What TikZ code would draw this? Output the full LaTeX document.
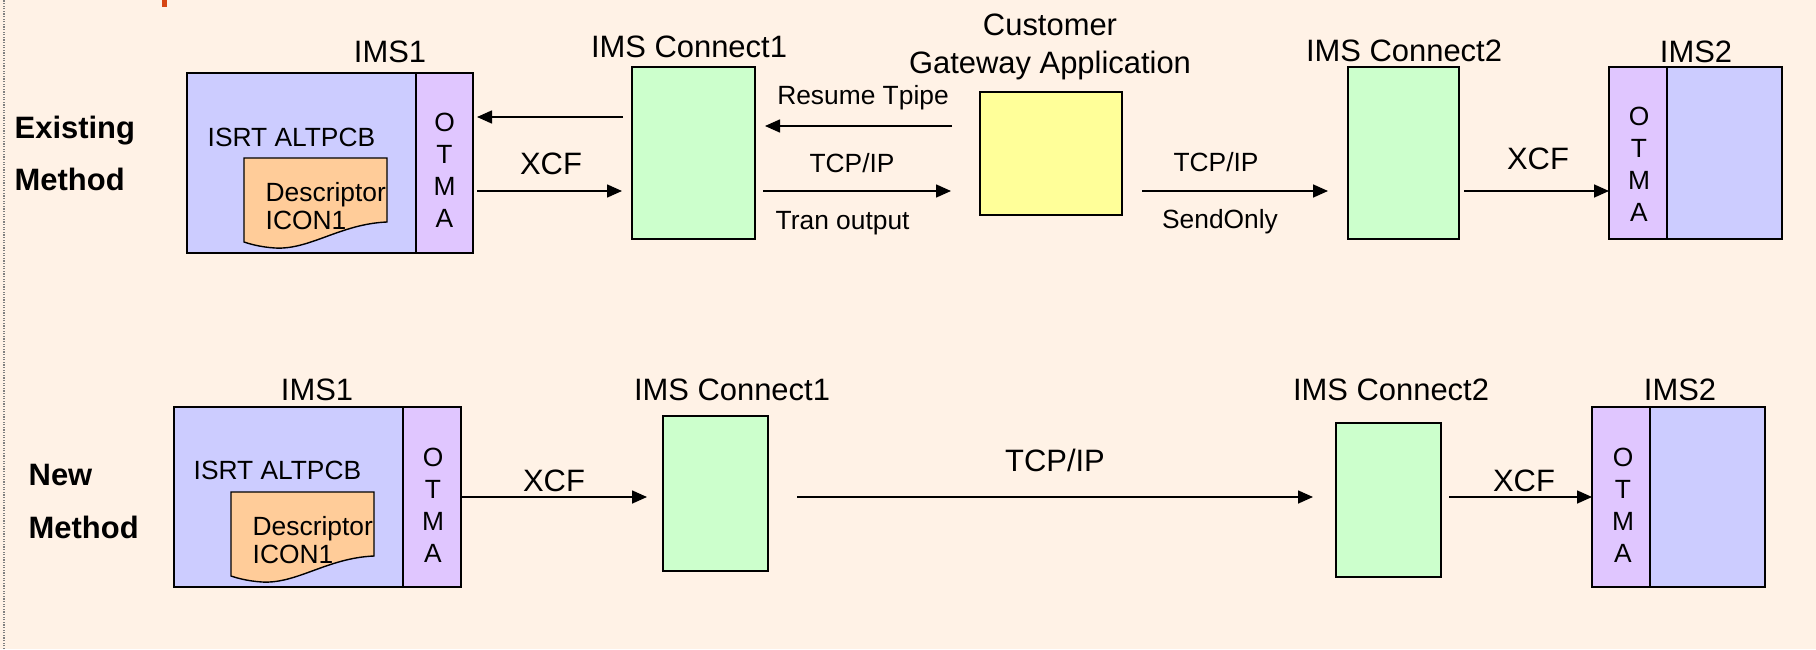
\documentclass[tikz,border=0pt]{standalone}
\usepackage{fontspec}
\setmainfont{Liberation Sans}
\usetikzlibrary{arrows.meta,positioning}
\definecolor{paper}{RGB}{255,242,230}
\definecolor{imsblue}{RGB}{204,204,255}
\definecolor{otmalilac}{RGB}{224,198,255}
\definecolor{descorange}{RGB}{255,204,153}
\definecolor{congreen}{RGB}{204,255,204}
\definecolor{gwyellow}{RGB}{255,255,153}
\definecolor{markred}{RGB}{214,70,20}
\newcommand{\txtbig}{\fontsize{8.8}{10.8}\selectfont}
\newcommand{\txtsmall}{\fontsize{7.5}{8}\selectfont}

\begin{document}
\begin{tikzpicture}[
 box/.style={draw,line width=0.6pt,inner sep=0pt,outer sep=0pt,anchor=south west},
 lbl/.style={inner sep=0pt,font=\txtbig},
 sml/.style={inner sep=0pt,font=\txtsmall},
 otmatxt/.style={inner sep=0pt,align=center,font=\fontsize{7.5}{9.1}\selectfont},
 mth/.style={inner sep=0pt,anchor=west,align=left,font=\bfseries\fontsize{8.8}{15}\selectfont},
 doc/.style={draw,fill=descorange,line width=0.4pt},
 arr/.style={line width=0.45pt,-{Triangle[length=0.15cm,width=0.13cm]}}
 ]
 \useasboundingbox (0,0) rectangle (18.16,6.49);
 \fill[paper] (0,0) rectangle (18.16,6.49);
 \draw[gray,line width=0.02cm,dash pattern=on 0.012cm off 0.014cm] (0.04,0) -- (0.04,6.49);
 \fill[markred] (1.62,6.42) rectangle (1.67,6.49);

 \node[mth] (m_old) at (0.14,4.955) {Existing\\Method};
 \node[box,fill=imsblue,minimum width=2.29cm,minimum height=1.80cm] (ims_1) at (1.87,3.96) {};
 \node[box,fill=otmalilac,minimum width=0.57cm,minimum height=1.80cm] (otma_1) [right=0pt of ims_1] {};
 \node[lbl] (l_ims1) at (3.90,5.97) {IMS1};
 \node[sml,anchor=west] (isrt_1) at (2.07,5.12) {ISRT ALTPCB};
 \draw[doc] (2.44,4.91) -- (3.87,4.91) -- (3.87,4.27) .. controls (3.40,4.25) and (3.10,3.99) .. (2.75,4.01) .. controls (2.60,4.02) and (2.50,4.05) .. (2.44,4.07) -- cycle;
 \node[sml,anchor=west,align=left] (desc_1) at (2.65,4.43) {Descriptor\\ICON1};
 \node[otmatxt] (o_1) at (4.445,4.785) {O\\T\\M\\A};
 \node[box,fill=congreen,minimum width=1.23cm,minimum height=1.72cm] (con_1) at (6.32,4.10) {};
 \node[lbl] (l_con1) at (6.89,6.02) {IMS Connect1};
 \node[box,fill=gwyellow,minimum width=1.42cm,minimum height=1.23cm] (gw) at (9.80,4.34) {};
 \node[lbl,align=center] (l_gw) at (10.50,6.02) {Customer\\Gateway Application};
 \node[box,fill=congreen,minimum width=1.11cm,minimum height=1.72cm] (con_2) at (13.48,4.10) {};
 \node[lbl] (l_con2) at (14.04,5.98) {IMS Connect2};
 \node[box,fill=otmalilac,minimum width=0.58cm,minimum height=1.72cm] (otma_2) at (16.09,4.10) {};
 \node[box,fill=imsblue,minimum width=1.15cm,minimum height=1.72cm] (ims_2) [right=0pt of otma_2] {};
 \node[lbl] (l_ims2) at (16.96,5.97) {IMS2};
 \node[otmatxt] (o_2) at (16.39,4.845) {O\\T\\M\\A};

 \coordinate (up_a) at (0,5.32);
 \coordinate (up_b) at (0,5.23);
 \coordinate (low_a) at (0,4.58);
 \draw[arr,shorten <=0.09cm,shorten >=0.04cm] (con_1.west |- up_a) -- (otma_1.east |- up_a);
 \draw[arr,shorten <=0.04cm,shorten >=0.10cm] (otma_1.east |- low_a) -- (con_1.west |- low_a);
 \draw[arr,shorten <=0.28cm,shorten >=0.10cm] (gw.west |- up_b) -- (con_1.east |- up_b);
 \draw[arr,shorten <=0.08cm,shorten >=0.29cm] (con_1.east |- low_a) -- (gw.west |- low_a);
 \draw[arr,shorten <=0.20cm,shorten >=0.20cm] (gw.east |- low_a) -- (con_2.west |- low_a);
 \draw[arr,shorten <=0.05cm] (con_2.east |- low_a) -- (otma_2.west |- low_a);
 \node[lbl] (x_1) at (5.51,4.85) {XCF};
 \node[sml] (rt) at (8.63,5.51) {Resume Tpipe};
 \node[sml] (tcp_1) at (8.52,4.86) {TCP/IP};
 \node[sml,anchor=west] (tran) at (7.75,4.26) {Tran output};
 \node[sml] (tcp_2) at (12.16,4.87) {TCP/IP};
 \node[sml] (so) at (12.20,4.27) {SendOnly};
 \node[lbl] (x_2) at (15.38,4.90) {XCF};

 \node[mth] (m_new) at (0.28,1.475) {New\\Method};
 \node[box,fill=imsblue,minimum width=2.29cm,minimum height=1.80cm] (ims_3) at (1.74,0.62) {};
 \node[box,fill=otmalilac,minimum width=0.58cm,minimum height=1.80cm] (otma_3) [right=0pt of ims_3] {};
 \node[lbl] (l_ims3) at (3.17,2.59) {IMS1};
 \node[sml,anchor=west] (isrt_3) at (1.93,1.79) {ISRT ALTPCB};
 \draw[doc,shift={(-0.13,-3.34)}] (2.44,4.91) -- (3.87,4.91) -- (3.87,4.27) .. controls (3.40,4.25) and (3.10,3.99) .. (2.75,4.01) .. controls (2.60,4.02) and (2.50,4.05) .. (2.44,4.07) -- cycle;
 \node[sml,anchor=west,align=left] (desc_3) at (2.52,1.09) {Descriptor\\ICON1};
 \node[otmatxt] (o_3) at (4.33,1.44) {O\\T\\M\\A};
 \node[box,fill=congreen,minimum width=1.05cm,minimum height=1.55cm] (con_3) at (6.63,0.78) {};
 \node[lbl] (l_con3) at (7.32,2.59) {IMS Connect1};
 \node[box,fill=congreen,minimum width=1.05cm,minimum height=1.54cm] (con_4) at (13.36,0.72) {};
 \node[lbl] (l_con4) at (13.91,2.59) {IMS Connect2};
 \node[box,fill=otmalilac,minimum width=0.58cm,minimum height=1.80cm] (otma_4) at (15.92,0.62) {};
 \node[box,fill=imsblue,minimum width=1.15cm,minimum height=1.80cm] (ims_4) [right=0pt of otma_4] {};
 \node[lbl] (l_ims4) at (16.80,2.59) {IMS2};
 \node[otmatxt] (o_4) at (16.23,1.44) {O\\T\\M\\A};

 \coordinate (row_b) at (0,1.52);
 \draw[arr,shorten >=0.16cm] (otma_3.east |- row_b) -- (con_3.west |- row_b);
 \draw[arr,shorten <=0.29cm,shorten >=0.23cm] (con_3.east |- row_b) -- (con_4.west |- row_b);
 \draw[arr,shorten <=0.08cm] (con_4.east |- row_b) -- (otma_4.west |- row_b);
 \node[lbl] (x_3) at (5.54,1.68) {XCF};
 \node[lbl] (tcp_3) at (10.55,1.89) {TCP/IP};
 \node[lbl] (x_4) at (15.24,1.68) {XCF};
\end{tikzpicture}
\end{document}
